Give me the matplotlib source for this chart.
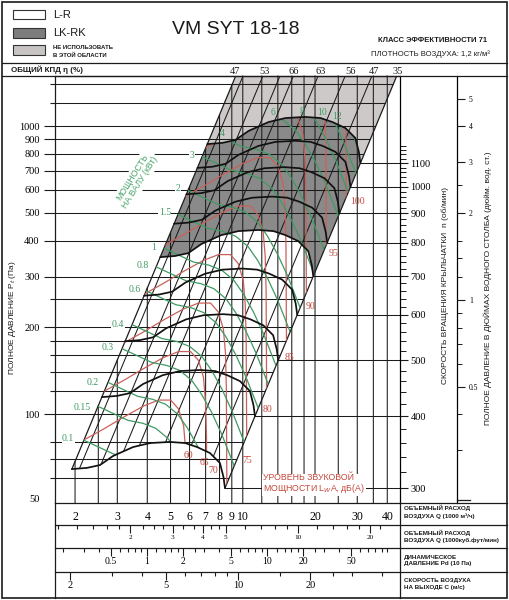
import numpy as np
import matplotlib.pyplot as plt
from matplotlib.patches import Polygon, Rectangle
from matplotlib.lines import Line2D
from matplotlib.ticker import NullFormatter

# ---- scales (Q in 1000 m3/h, Pt in Pa) ----
q_grid = [2, 2.5, 3, 4, 5, 6, 7, 8, 9, 10, 12, 14, 16, 18, 20, 25, 30, 35, 40]
q_ticks = [2, 3, 4, 5, 6, 7, 8, 9, 10, 20, 30, 40]
pt_grid = [60, 70, 80, 100, 120, 140, 160, 180, 200, 250, 300, 400, 500,
           600, 700, 800, 900, 1000, 1200, 1400]
pt_ticks = [100, 200, 300, 400, 500, 600, 700, 800, 900, 1000]
pt_minor = [60, 70, 80, 120, 140, 160, 180, 250, 1200, 1400]
rpm_lines = [300, 400, 500, 600, 700, 800, 900, 1000, 1100]
inch_ticks = [0.5, 1, 2, 3, 4, 5]
inch_labels = ['0.5', '1', '2', '3', '4', '5']
inch_minor = [0.3, 0.4, 0.6, 0.7, 0.8, 0.9, 1.2, 1.4, 1.6, 2.5]

cfm_ticks = [2, 3, 4, 5, 10, 20]
cfm_minor = [1, 1.2, 1.4, 1.6, 1.8, 2.25, 2.5, 2.75, 3.33, 3.67, 4.33, 4.67,
             6, 7, 8, 9, 12, 14, 16, 18, 22]
pd_ticks = [0.5, 1, 2, 5, 10, 20, 50]
pd_minor = [0.2, 0.3, 0.4, 0.6, 0.7, 0.8, 0.9, 1.2, 1.4, 1.6, 1.8, 2.5, 3, 4,
            6, 7, 8, 9, 12, 14, 16, 18, 25, 30, 40, 60, 70, 80, 90, 100]
vel_ticks = [2, 5, 10, 20]
vel_minor = [3, 4, 6, 7, 8, 9, 15, 25, 30, 40]

# ---- chart limits (system lines) ----
l1_q = [1.94, 9.34]
l1_p = [64.4, 1492]
l2_q = [8.43, 43.8]
l2_p = [55.3, 1492]
obl_top_q = [10.02, 12.12, 14.28, 16.24, 20.6, 26.7, 34.5]
obl_bot_q = [1.835, 2.219, 2.615, 2.974, 3.772, 4.889, 6.317]
eff_labels = ['47', '53', '66', '63', '56', '47', '35']
eff_q = [9.28, 12.3, 16.24, 21.2, 28.0, 35.1, 44.2]

# ---- fan curves, one per speed (rpm) ----
q_300 = [1.94, 2.24, 2.54, 2.88, 3.49, 4.11, 4.97, 5.75, 6.45, 7.30, 8.03, 8.31, 8.43]
p_300 = [64.4, 65.0, 66.5, 71.5, 76.8, 79.3, 80.0, 79.3, 76.8, 73.2, 67.6, 60.4, 55.3]
q_400 = [2.59, 2.99, 3.39, 3.84, 4.65, 5.48, 6.63, 7.67, 8.60, 9.73, 10.71, 11.08, 11.24]
p_400 = [114.5, 115.6, 118.2, 127.1, 136.5, 141.0, 142.2, 141.0, 136.5, 130.1, 120.2, 107.4, 98.3]
q_500 = [3.23, 3.73, 4.23, 4.80, 5.82, 6.85, 8.28, 9.58, 10.75, 12.17, 13.38, 13.85, 14.05]
p_500 = [178.9, 180.6, 184.7, 198.6, 213.3, 220.3, 222.2, 220.3, 213.3, 203.3, 187.8, 167.8, 153.6]
q_600 = [3.88, 4.48, 5.08, 5.76, 6.98, 8.22, 9.94, 11.50, 12.90, 14.60, 16.06, 16.62, 16.86]
p_600 = [257.6, 260.0, 266.0, 286.0, 307.2, 317.2, 320.0, 317.2, 307.2, 292.8, 270.4, 241.6, 221.2]
q_700 = [4.53, 5.23, 5.93, 6.72, 8.14, 9.59, 11.60, 13.42, 15.05, 17.03, 18.74, 19.39, 19.67]
p_700 = [350.6, 353.9, 362.1, 389.3, 418.1, 431.7, 435.6, 431.7, 418.1, 398.5, 368.0, 328.8, 301.1]
q_800 = [5.17, 5.97, 6.77, 7.68, 9.31, 10.96, 13.25, 15.33, 17.20, 19.47, 21.41, 22.16, 22.48]
p_800 = [458.0, 462.2, 472.9, 508.4, 546.1, 563.9, 568.9, 563.9, 546.1, 520.5, 480.7, 429.5, 393.2]
q_900 = [5.82, 6.72, 7.62, 8.64, 10.47, 12.33, 14.91, 17.25, 19.35, 21.90, 24.09, 24.93, 25.29]
p_900 = [579.6, 585.0, 598.5, 643.5, 691.2, 713.7, 720.0, 713.7, 691.2, 658.8, 608.4, 543.6, 497.7]
q_1000 = [6.47, 7.47, 8.47, 9.60, 11.63, 13.70, 16.57, 19.17, 21.50, 24.33, 26.77, 27.70, 28.10]
p_1000 = [715.6, 722.2, 738.9, 794.4, 853.3, 881.1, 888.9, 881.1, 853.3, 813.3, 751.1, 671.1, 614.4]
q_1100 = [7.11, 8.21, 9.31, 10.56, 12.80, 15.07, 18.22, 21.08, 23.65, 26.77, 29.44, 30.47, 30.91]
p_1100 = [865.8, 873.9, 894.1, 961.3, 1032.5, 1066.1, 1075.6, 1066.1, 1032.5, 984.1, 908.8, 812.0, 743.5]

# ---- sound power level curves, dB(A) ----
r60_q = [2.17, 2.63, 3.19, 3.86, 4.46, 5.01, 5.40, 5.67, 5.78, 5.83, 5.89]
r60_p = [81.2, 88.7, 97.6, 106.6, 111.8, 111.8, 104.1, 90.9, 75.0, 56.7, 11.0]
r65_q = [2.63, 3.18, 3.86, 4.67, 5.40, 6.06, 6.54, 6.86, 6.99, 7.06, 7.13]
r65_p = [119.7, 130.7, 143.8, 157.1, 164.8, 164.8, 153.4, 134.0, 110.5, 83.6, 16.2]
r70_q = [3.18, 3.85, 4.67, 5.65, 6.53, 7.34, 7.91, 8.30, 8.47, 8.54, 8.63]
r70_p = [176.3, 192.6, 212.0, 231.5, 242.8, 242.8, 226.1, 197.4, 162.9, 123.1, 23.9]
r75_q = [3.85, 4.66, 5.65, 6.84, 7.91, 8.88, 9.57, 10.05, 10.24, 10.33, 10.44]
r75_p = [259.9, 283.9, 312.4, 341.2, 357.8, 357.8, 333.2, 290.9, 240.0, 181.5, 35.2]
r80_q = [4.65, 5.64, 6.84, 8.28, 9.57, 10.75, 11.58, 12.16, 12.40, 12.51, 12.63]
r80_p = [383.0, 418.4, 460.4, 502.8, 527.3, 527.3, 491.0, 428.8, 353.8, 267.4, 51.9]
r85_q = [5.63, 6.83, 8.28, 10.02, 11.58, 13.01, 14.02, 14.72, 15.00, 15.13, 15.29]
r85_p = [564.4, 616.6, 678.4, 741.0, 777.1, 777.1, 723.6, 631.9, 521.3, 394.1, 76.5]
r90_q = [6.82, 8.26, 10.02, 12.13, 14.01, 15.74, 16.97, 17.81, 18.16, 18.32, 18.50]
r90_p = [831.8, 908.6, 999.8, 1092, 1145, 1145, 1066, 931.2, 768.3, 580.8, 112.7]
r95_q = [8.25, 10.00, 12.13, 14.68, 16.96, 19.05, 20.53, 21.56, 21.98, 22.17, 22.39]
r95_p = [1226, 1339, 1473, 1609, 1688, 1688, 1572, 1372, 1132, 856.0, 166.1]
r100_q = [9.98, 12.10, 14.68, 17.76, 20.52, 23.05, 24.85, 26.09, 26.60, 26.83, 27.10]
r100_p = [1807, 1973, 2171, 2372, 2487, 2487, 2316, 2022, 1669, 1262, 244.7]
sound_labels = ['60', '65', '70', '75', '80', '85', '90', '95', '100']
sound_lab_q = [5.91, 6.95, 7.52, 10.4, 12.7, 15.6, 19.2, 23.8, 30.0]
sound_lab_p = [72.0, 67.7, 63.5, 69.2, 104, 157.6, 237, 362, 545]

# ---- shaft power curves, kW ----
g010_q = [2.17, 2.90, 3.34, 3.79, 4.25, 4.68, 5.14, 5.67, 7.56, 9.15]
g010_p = [81.2, 72.6, 70.9, 68.1, 62.9, 56.2, 48.7, 40.9, 22.2, 14.6]
g015_q = [2.49, 3.32, 3.83, 4.34, 4.87, 5.35, 5.89, 6.49, 8.65, 10.48]
g015_p = [106.4, 95.1, 92.9, 89.2, 82.4, 73.6, 63.8, 53.6, 29.1, 19.1]
g020_q = [2.74, 3.65, 4.21, 4.77, 5.36, 5.89, 6.48, 7.14, 9.52, 11.53]
g020_p = [128.9, 115.2, 112.5, 108.1, 99.8, 89.2, 77.3, 64.9, 35.2, 23.2]
g030_q = [3.13, 4.18, 4.82, 5.46, 6.13, 6.74, 7.42, 8.17, 10.90, 13.20]
g030_p = [168.9, 151.0, 147.5, 141.7, 130.8, 116.9, 101.3, 85.1, 46.2, 30.4]
g040_q = [3.45, 4.60, 5.31, 6.01, 6.75, 7.42, 8.16, 8.99, 12.00, 14.53]
g040_p = [204.6, 182.9, 178.7, 171.6, 158.5, 141.6, 122.7, 103.1, 55.9, 36.8]
g060_q = [3.95, 5.26, 6.08, 6.88, 7.73, 8.50, 9.34, 10.29, 13.73, 16.63]
g060_p = [268.1, 239.7, 234.1, 224.9, 207.7, 185.6, 160.8, 135.0, 73.3, 48.2]
g080_q = [4.34, 5.79, 6.69, 7.58, 8.50, 9.35, 10.28, 11.33, 15.11, 18.30]
g080_p = [324.8, 290.4, 283.6, 272.4, 251.6, 224.8, 194.8, 163.6, 88.8, 58.4]
g100_q = [4.68, 6.24, 7.20, 8.16, 9.16, 10.07, 11.08, 12.20, 16.28, 19.72]
g100_p = [376.9, 337.0, 329.1, 316.1, 292.0, 260.9, 226.0, 189.8, 103.0, 67.8]
g150_q = [5.36, 7.14, 8.25, 9.34, 10.49, 11.53, 12.68, 13.97, 18.64, 22.57]
g150_p = [493.9, 441.6, 431.2, 414.2, 382.6, 341.8, 296.2, 248.8, 135.0, 88.8]
g200_q = [5.90, 7.86, 9.08, 10.28, 11.54, 12.69, 13.96, 15.38, 20.51, 24.84]
g200_p = [598.3, 534.9, 522.4, 501.8, 463.5, 414.1, 358.8, 301.4, 163.6, 107.6]
g300_q = [6.75, 9.00, 10.39, 11.77, 13.21, 14.53, 15.98, 17.60, 23.48, 28.43]
g300_p = [784.0, 700.9, 684.5, 657.5, 607.3, 542.6, 470.2, 394.9, 214.3, 141.0]
g400_q = [7.43, 9.90, 11.44, 12.95, 14.54, 15.99, 17.59, 19.37, 25.84, 31.30]
g400_p = [949.7, 849.1, 829.2, 796.5, 735.7, 657.3, 569.6, 478.4, 259.7, 170.8]
g600_q = [8.50, 11.34, 13.09, 14.83, 16.65, 18.31, 20.13, 22.18, 29.59, 35.83]
g600_p = [1244, 1113, 1087, 1044, 964.0, 861.3, 746.4, 626.8, 340.2, 223.8]
g800_q = [9.36, 12.48, 14.41, 16.32, 18.32, 20.15, 22.16, 24.41, 32.56, 39.43]
g800_p = [1508, 1348, 1316, 1264, 1168, 1043, 904.2, 759.3, 412.2, 271.1]
g1000_q = [10.08, 13.44, 15.52, 17.58, 19.74, 21.70, 23.87, 26.30, 35.08, 42.48]
g1000_p = [1749, 1564, 1527, 1467, 1355, 1211, 1049, 881.1, 478.3, 314.5]
g1200_q = [10.71, 14.28, 16.49, 18.68, 20.97, 23.06, 25.36, 27.94, 37.27, 45.14]
g1200_p = [1975, 1766, 1725, 1657, 1530, 1367, 1185, 995.1, 540.1, 355.2]
power_labels = ['0.1', '0.15', '0.2', '0.3', '0.4', '0.6', '0.8', '1', '1.5',
                '2', '3', '4', '6', '8', '10', '12']
power_lab_q = [1.87, 2.14, 2.38, 2.74, 3.02, 3.56, 3.84, 4.27, 4.74, 5.37,
               6.15, 8.22, 13.3, 17.6, 21.4, 24.7]
power_lab_p = [82.5, 105.7, 129.1, 170.9, 205.4, 269.8, 329.0, 380.0, 499.0,
               609.0, 793.0, 945.0, 1110, 1122, 1110, 1075]

fan_curves = [(q_300, p_300), (q_400, p_400), (q_500, p_500), (q_600, p_600),
              (q_700, p_700), (q_800, p_800), (q_900, p_900), (q_1000, p_1000),
              (q_1100, p_1100)]
sound_curves = [(r60_q, r60_p), (r65_q, r65_p), (r70_q, r70_p), (r75_q, r75_p),
                (r80_q, r80_p), (r85_q, r85_p), (r90_q, r90_p), (r95_q, r95_p),
                (r100_q, r100_p)]
power_curves = [(g010_q, g010_p), (g015_q, g015_p), (g020_q, g020_p),
                (g030_q, g030_p), (g040_q, g040_p), (g060_q, g060_p),
                (g080_q, g080_p), (g100_q, g100_p), (g150_q, g150_p),
                (g200_q, g200_p), (g300_q, g300_p), (g400_q, g400_p),
                (g600_q, g600_p), (g800_q, g800_p), (g1000_q, g1000_p),
                (g1200_q, g1200_p)]

# ---- style ----
plt.rcParams['font.family'] = ['Liberation Sans', 'DejaVu Sans']
SERIF = ['Liberation Serif', 'DejaVu Serif']
INK = '#1b1b1b'
GREEN = '#3f9a63'
RED = '#c9615a'
RED_TXT = '#c4483c'
DARK = '#8a8a8a'
LIGHT = '#cec9c9'

W, H = 509, 600
fig = plt.figure(figsize=(W / 100, H / 100), dpi=100)


def fx(x):
    return x / W


def fy(y):
    return 1 - y / H


def fig_line(x0, y0, x1, y1, lw=0.9):
    fig.add_artist(Line2D([fx(x0), fx(x1)], [fy(y0), fy(y1)],
                          transform=fig.transFigure, color=INK, lw=lw))


QMIN, QMAX, PMIN, PMAX = 1.65, 45.2, 49.1, 1492

ax = fig.add_axes([fx(55), fy(503), fx(400) - fx(55), fy(76) - fy(503)])
ax.set_xscale('log')
ax.set_yscale('log')
ax.set_xlim(QMIN, QMAX)
ax.set_ylim(PMIN, PMAX)


def region(qs, ps):
    return Polygon(np.column_stack([qs, ps]), closed=True, transform=ax.transData)


def along(qs, ps, p):
    # Q on a system line (Pt ~ Q^2) at pressure p
    return qs[0] * np.sqrt(p / ps[0])


lo, hi = 30, 3000
op_clip = region(q_1100 + q_300[::-1], p_1100 + p_300[::-1])
chart_clip = region(q_300 + [l2_q[1], l1_q[1]], p_300 + [l2_p[1], l1_p[1]])
left_l2 = region([1, 1, along(l2_q, l2_p, hi), along(l2_q, l2_p, lo)], [lo, hi, hi, lo])
right_l2 = region([along(l2_q, l2_p, lo), along(l2_q, l2_p, hi), 100, 100], [lo, hi, hi, lo])

# shaded regions
ax.fill(q_1100 + q_700[::-1], p_1100 + p_700[::-1], color=DARK, lw=0, zorder=1)
ax.fill([l1_q[1], l2_q[1]] + q_1100[::-1], [l1_p[1], l2_p[1]] + p_1100[::-1],
        color=LIGHT, lw=0, zorder=1)


def clipped(axis, xs, ys, clip, **kw):
    ln, = axis.plot(xs, ys, **kw)
    ln.set_clip_path(clip)
    return ln


grid_kw = dict(color=INK, lw=0.75, zorder=2)
# vertical flow lines run from the bottom up to the left system line
for q in q_grid:
    top = min(PMAX, l1_p[0] * (q / l1_q[0]) ** 2)
    ax.plot([q, q], [PMIN, top], color=INK, lw=0.75, zorder=2,
            clip_on=False, snap=False)
for p in pt_grid:
    clipped(ax, [1, 100], [p, p], left_l2, **grid_kw)
for qb, qt in zip(obl_bot_q, obl_top_q):
    clipped(ax, [qb, qt], [50, PMAX], chart_clip, **grid_kw)
ax.plot(l1_q, l1_p, color=INK, lw=0.9, zorder=2)
ax.plot(l2_q, l2_p, color=INK, lw=0.9, zorder=2)

for qs, ps in sound_curves:
    clipped(ax, qs, ps, op_clip, color=RED, lw=0.9, zorder=3)
for qs, ps in power_curves:
    clipped(ax, qs, ps, op_clip, color=GREEN, lw=0.9, zorder=3)
for qs, ps in fan_curves:
    ax.plot(qs, ps, color='#111111', lw=1.25, zorder=4, solid_capstyle='round')

for i, (q, p, t) in enumerate(zip(power_lab_q, power_lab_p, power_labels)):
    bb = dict(facecolor='white', edgecolor='none', pad=0.3) if i < 11 else None
    ax.text(q, p, t, ha='center', va='center', fontsize=7, color=GREEN,
            family=SERIF, zorder=6, bbox=bb)

ax.text(3.6, 650, 'МОЩНОСТЬ\nНА ВАЛУ (кВт)', rotation=58, ha='center',
        va='center', fontsize=6.3, color='#4aa56a', linespacing=1.05, zorder=6,
        bbox=dict(facecolor='white', edgecolor='none', pad=1.2))

# efficiency labels above the chart
for q, t in zip(eff_q, eff_labels):
    ax.text(q, 1.0094, t, transform=ax.get_xaxis_transform(), ha='center',
            va='center', fontsize=7.5, family=SERIF, color=INK)

# left axis ticks
ax.set_yticks(pt_ticks, labels=[str(v) for v in pt_ticks])
ax.set_yticks(pt_minor, minor=True)
ax.yaxis.set_minor_formatter(NullFormatter())
ax.tick_params(axis='y', which='major', length=8, width=0.8, pad=3,
               labelsize=7.5, labelfontfamily='Liberation Serif', color=INK)
ax.tick_params(axis='y', which='minor', length=3.6, width=0.8, color=INK)
ax.text(-0.0435, 50.3, '50', transform=ax.get_yaxis_transform(), ha='right',
        va='center', fontsize=7.5, family=SERIF)

ax.set_xticks(q_ticks, labels=[str(v) for v in q_ticks])
ax.xaxis.set_minor_formatter(NullFormatter())
ax.tick_params(axis='x', which='major', length=0, pad=6, labelsize=8.5,
               labelfontfamily='Liberation Serif')
ax.tick_params(axis='x', which='minor', length=0)
for s in ax.spines.values():
    s.set_linewidth(0.9)
    s.set_color(INK)
ax.spines['right'].set_visible(False)

# speed scale on the right
ax_n = ax.twinx()
ax_n.set_yscale('log')
for n in rpm_lines:
    clipped(ax_n, [1, 100], [n, n], right_l2, **grid_kw)
ax_n.set_ylim(282.7, 1558)
ax_n.set_yticks(rpm_lines, labels=[str(v) for v in rpm_lines])
ax_n.set_yticks([v for v in range(320, 1200, 20) if v % 100], minor=True)
ax_n.yaxis.set_minor_formatter(NullFormatter())
ax_n.tick_params(axis='y', which='major', length=6, width=0.8, pad=1.5,
                 labelsize=7.5, labelfontfamily='Liberation Serif', color=INK)
ax_n.tick_params(axis='y', which='minor', length=4, width=0.7, color=INK)
for k in ['left', 'top', 'bottom']:
    ax_n.spines[k].set_visible(False)
ax_n.spines['right'].set_linewidth(0.9)

for q, p, t in zip(sound_lab_q, sound_lab_p, sound_labels):
    ax_n.text(q, p, t, transform=ax.transData, ha='center', va='center',
              fontsize=7, color=RED_TXT, family=SERIF, zorder=6)

# inches of water column
ax_in = ax.twinx()
ax_in.set_yscale('log')
ax_in.set_ylim(PMIN / 249.1, PMAX / 249.1)
ax_in.spines['right'].set_position(('axes', (457 - 55) / 345))
for k in ['left', 'top', 'bottom']:
    ax_in.spines[k].set_visible(False)
ax_in.spines['right'].set_linewidth(0.9)
ax_in.set_yticks(inch_ticks, labels=inch_labels)
ax_in.set_yticks(inch_minor, minor=True)
ax_in.yaxis.set_minor_formatter(NullFormatter())
ax_in.tick_params(axis='y', which='major', length=6, width=0.8, pad=2.5,
                  labelsize=5.5, labelfontfamily='Liberation Serif', color=INK)
ax_in.tick_params(axis='y', which='minor', length=3.5, width=0.7, color=INK)

ax.set_xlim(QMIN, QMAX)
ax.set_ylim(PMIN, PMAX)


# ---- secondary scales under the chart ----
def scale_row(top, bottom, lim, major, labels, minor, label_y, size):
    r = fig.add_axes([fx(55), fy(bottom), fx(400) - fx(55), fy(top) - fy(bottom)])
    r.set_xscale('log')
    r.set_xlim(*lim)
    r.set_ylim(0, 1)
    r.patch.set_visible(False)
    for s in r.spines.values():
        s.set_visible(False)
    r.set_yticks([])
    r.set_xticks(major)
    r.set_xticks(minor, minor=True)
    r.xaxis.set_major_formatter(NullFormatter())
    r.xaxis.set_minor_formatter(NullFormatter())
    r.tick_params(axis='x', which='both', top=True, bottom=False,
                  direction='in', labelbottom=False, width=0.8, color=INK)
    r.tick_params(axis='x', which='major', length=5.5)
    r.tick_params(axis='x', which='minor', length=3.2)
    for v, t in zip(major, labels):
        r.text(v, label_y, t, transform=r.get_xaxis_transform(), ha='center',
               va='center', fontsize=size, family=SERIF)
    return r


scale_row(525, 548, (QMIN / 1.699, QMAX / 1.699), cfm_ticks,
          [str(v) for v in cfm_ticks], cfm_minor, 0.47, 5.2)
scale_row(548, 572, (0.1712, 128.3), pd_ticks, [str(v) for v in pd_ticks],
          pd_minor, 0.42, 7)
scale_row(572, 597, (1.728, 47.32), vel_ticks, [str(v) for v in vel_ticks],
          vel_minor, 0.48, 7.5)

# ---- frame and separators ----
fig.add_artist(Rectangle((fx(1.5), fy(598)), fx(507) - fx(1.5), fy(2) - fy(598),
                         transform=fig.transFigure, fill=False, lw=1.2,
                         edgecolor=INK))
fig_line(1.5, 63, 507, 63)
fig_line(1.5, 76, 507, 76)
fig_line(400, 503, 507, 503)
for yy in [525, 548, 572]:
    fig_line(55, yy, 507, yy)
fig_line(55, 503, 55, 598)
fig_line(400, 503, 400, 598)
fig_line(457, 500, 470, 500)

# ---- header ----
fig.add_artist(Rectangle((fx(13), fy(19)), fx(45) - fx(13), fy(10) - fy(19),
                         transform=fig.transFigure, facecolor='white',
                         edgecolor='#333333', lw=0.8))
fig.add_artist(Rectangle((fx(13), fy(38)), fx(45) - fx(13), fy(28) - fy(38),
                         transform=fig.transFigure, facecolor='#7d7d7d',
                         edgecolor='#333333', lw=0.8))
fig.add_artist(Rectangle((fx(13), fy(55)), fx(45) - fx(13), fy(45) - fy(55),
                         transform=fig.transFigure, facecolor='#c8c4c4',
                         edgecolor='#333333', lw=0.8))
fig.text(fx(53), fy(15), 'L-R', fontsize=8, va='center', color=INK)
fig.text(fx(53), fy(33), 'LK-RK', fontsize=8, va='center', color=INK)
fig.text(fx(53), fy(47.5), 'НЕ ИСПОЛЬЗОВАТЬ', fontsize=4.3, va='center',
         weight='bold', color=INK)
fig.text(fx(53), fy(55.5), 'В ЭТОЙ ОБЛАСТИ', fontsize=4.3, va='center',
         weight='bold', color=INK)
fig.text(fx(236), fy(30), 'VM SYT 18-18', fontsize=14, ha='center',
         va='center', color=INK)
fig.text(fx(487), fy(41), 'КЛАСС ЭФФЕКТИВНОСТИ 71', fontsize=5.5, ha='right',
         va='center', weight='bold', color=INK)
fig.text(fx(490), fy(54), 'ПЛОТНОСТЬ ВОЗДУХА: 1,2 кг/м³', fontsize=5.5,
         ha='right', va='center', color=INK)
fig.text(fx(11), fy(70), 'ОБЩИЙ КПД η (%)', fontsize=5.8, va='center',
         weight='bold', color=INK)

# ---- axis captions ----
fig.text(fx(13), fy(318), 'ПОЛНОЕ ДАВЛЕНИЕ P$_t$ (Па)', rotation=90,
         ha='center', va='center', fontsize=6, color=INK)
fig.text(fx(445), fy(285), 'СКОРОСТЬ ВРАЩЕНИЯ КРЫЛЬЧАТКИ  n (об/мин)',
         rotation=90, ha='center', va='center', fontsize=6, color=INK)
fig.text(fx(488), fy(288),
         'ПОЛНОЕ ДАВЛЕНИЕ В ДЮЙМАХ ВОДНОГО СТОЛБА (дюйм. вод. ст.)',
         rotation=90, ha='center', va='center', fontsize=6, color=INK)
fig.text(fx(263), fy(484), 'УРОВЕНЬ ЗВУКОВОЙ\nМОЩНОСТИ L$_W$A, дБ(A)',
         ha='left', va='center', fontsize=6.3, color=RED_TXT, linespacing=1.1,
         bbox=dict(facecolor='white', edgecolor='none', pad=0.6))

row_notes = [('ОБЪЕМНЫЙ РАСХОД\nВОЗДУХА Q (1000 м³/ч)', 512),
             ('ОБЪЕМНЫЙ РАСХОД\nВОЗДУХА Q (1000куб.фут/мин)', 536.5),
             ('ДИНАМИЧЕСКОЕ\nДАВЛЕНИЕ Pd (10 Па)', 560.5),
             ('СКОРОСТЬ ВОЗДУХА\nНА ВЫХОДЕ C (м/с)', 584)]
for t, yy in row_notes:
    fig.text(fx(404), fy(yy), t, fontsize=4.5, va='center', ha='left',
             linespacing=1.5, weight='bold', color=INK)

fig.savefig('out.png', dpi=100)
